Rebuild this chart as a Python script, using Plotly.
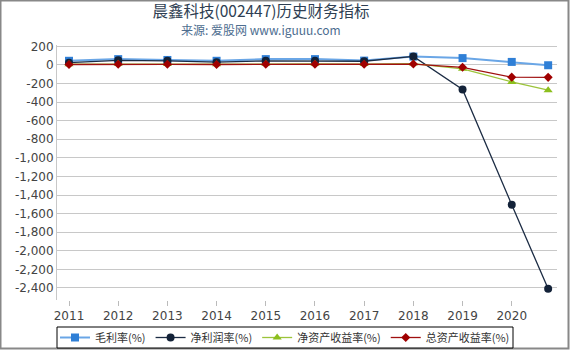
import plotly.graph_objects as go

years = [2011, 2012, 2013, 2014, 2015, 2016, 2017, 2018, 2019, 2020, 2020.74]
x_tick_vals = [2011, 2012, 2013, 2014, 2015, 2016, 2017, 2018, 2019, 2020]
x_tick_text = ["2011", "2012", "2013", "2014", "2015", "2016", "2017", "2018", "2019", "2020"]

gross_margin = [45, 63, 54, 45, 63, 63, 47, 90, 74, 33, -3]
net_margin = [25, 50, 45, 30, 45, 45, 40, 92, -263, -1505, -2410]
roe = [8, 12, 10, 8, 12, 12, 10, 15, -42, -182, -272]
roa = [5, 8, 7, 5, 8, 8, 7, 10, -25, -131, -133]

y_tick_vals = [200, 0, -200, -400, -600, -800, -1000, -1200, -1400, -1600, -1800, -2000, -2200, -2400]
y_tick_text = ["200", "0", "-200", "-400", "-600", "-800", "-1,000", "-1,200", "-1,400",
               "-1,600", "-1,800", "-2,000", "-2,200", "-2,400"]

names = ["毛利率(%)", "净利润率(%)", "净资产收益率(%)", "总资产收益率(%)"]

W, H = 570, 350
ML, MR, MT, MB = 57, 13, 45, 50
PW, PH = W - ML - MR, H - MT - MB


def px_x(x):
    return (x - ML) / PW


def px_y(y):
    return (H - y - MB) / PH


fig = go.Figure()
fig.add_trace(go.Scatter(x=years, y=gross_margin, name=names[0], mode="lines+markers",
                         line=dict(color="#6aa6e6", width=2),
                         marker=dict(symbol="square", size=8, color="#2f7fd6")))
fig.add_trace(go.Scatter(x=years, y=net_margin, name=names[1], mode="lines+markers",
                         line=dict(color="#1c2c44", width=1.3),
                         marker=dict(symbol="circle", size=8, color="#132238")))
fig.add_trace(go.Scatter(x=years, y=roe, name=names[2], mode="lines+markers",
                         line=dict(color="#9cc43a", width=1.3),
                         marker=dict(symbol="triangle-up", size=8, color="#8cbf1e")))
fig.add_trace(go.Scatter(x=years, y=roa, name=names[3], mode="lines+markers",
                         line=dict(color="#a01010", width=1.3),
                         marker=dict(symbol="diamond", size=7, color="#a00000")))

LEG_W = 456
fig.update_layout(
    width=W, height=H,
    margin=dict(l=ML, r=MR, t=MT, b=MB, autoexpand=False),
    paper_bgcolor="white", plot_bgcolor="white",
    font=dict(family="DejaVu Sans, Noto Sans CJK SC", size=12, color="#444444"),
    title=dict(text="晨鑫科技(002447)历史财务指标", x=261 / W, xref="container", xanchor="center",
               y=1 - 12 / H, yref="container", yanchor="middle",
               font=dict(family="Noto Sans CJK SC", size=15.5, color="#2e3e52")),
    annotations=[dict(text="来源: 爱股网 www.iguuu.com", x=px_x(261), xref="paper", xanchor="center",
                      y=px_y(29), yref="paper", yanchor="middle", showarrow=False,
                      font=dict(family="Noto Sans CJK SC", size=12, color="#4d6d8f"))],
    xaxis=dict(range=[2010.756, 2020.92], tickvals=x_tick_vals, ticktext=x_tick_text,
               showgrid=False, zeroline=False, showline=False,
               ticks="outside", ticklen=5, tickcolor="#bbbbbb",
               tickfont=dict(size=12, color="#444444")),
    yaxis=dict(range=[-2530, 215], tickvals=y_tick_vals, ticktext=y_tick_text,
               showgrid=True, gridcolor="#c8c8c8", gridwidth=1, zeroline=False,
               showline=True, linecolor="#c8c8c8", linewidth=1, ticks="",
               tickfont=dict(size=12, color="#444444")),
    legend=dict(orientation="h", x=0.5, xref="container", xanchor="center",
                y=(H - 337.5) / H, yref="container", yanchor="middle",
                borderwidth=0, bgcolor="rgba(0,0,0,0)",
                font=dict(family="Noto Sans CJK SC, DejaVu Sans", size=11, color="#333333"),
                itemwidth=30, tracegroupgap=0),
    showlegend=True,
    shapes=[
        dict(type="rect", xref="paper", yref="paper",
             x0=px_x(0.5), x1=px_x(W - 1.5), y0=px_y(H - 1.5), y1=px_y(0.5),
             line=dict(color="#888888", width=2), layer="below"),
        dict(type="rect", xref="paper", yref="paper",
             x0=px_x(W / 2 - LEG_W / 2), x1=px_x(W / 2 + LEG_W / 2),
             y0=px_y(348), y1=px_y(327),
             line=dict(color="#000000", width=1), fillcolor="white", layer="below"),
    ],
)

fig.write_html("out.html")
